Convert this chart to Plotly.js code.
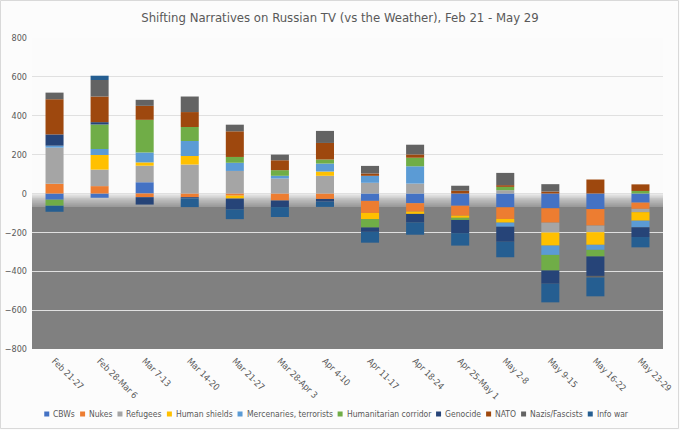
<!DOCTYPE html>
<html><head><meta charset="utf-8">
<script src="https://cdn.plot.ly/plotly-3.0.1.min.js"></script>
<style>html,body{margin:0;padding:0;background:#fff}#chart{width:680px;height:430px}</style>
</head><body><div id="chart"></div>
<script>
// ---- data ----
const categories = ["Feb 21-27","Feb 28-Mar 6","Mar 7-13","Mar 14-20","Mar 21-27","Mar 28-Apr 3","Apr 4-10","Apr 11-17","Apr 18-24","Apr 25-May 1","May 2-8","May 9-15","May 16-22","May 23-29"];
const seriesNames = ["CBWs","Nukes","Refugees","Human shields","Mercenaries, terrorists","Humanitarian corridor","Genocide","NATO","Nazis/Fascists","Info war"];
const cbws          = [-32, -22,  58,   0,   0,   0,   0, -38, -50, -63, -71, -76, -80, -47];
const nukes         = [ 50,  38, -19, -19, -11, -36, -28, -62, -43, -51, -60, -74, -85, -32];
const refugees      = [186,  85,  85, 149, 116,  77,  91,  55,  51,   0,  17, -51, -34, -17];
const humanShields  = [  0,  75,  17,  44, -15,   0,  22, -32, -12, -11, -19, -67, -65, -44];
const mercenaries   = [ 10,  31,  51,  77,  42,  14,  41,  36,  89,   0, -21, -48, -26, -34];
const humanitarian  = [-31, 126, 168,  72,  30,  29,  21, -43,  44, -11,  17, -80, -34,  13];
const genocide      = [ 58,  12, -38,  -6, -56, -34, -14, -22, -44, -68, -77, -68,-100, -50];
const nato          = [181, 132,  72,  77, 132,  51,  85,  12,  17,  14,   9,  10,  72,  34];
const nazis         = [ 34,  85,  31,  80,  34,  29,  62,  39,  50,  26,  63,  38,  -8,   0];
const infoWar       = [-31,  22,   0, -45, -50, -51, -27, -56, -63, -64, -80, -96, -97, -53];
const seriesValues = [cbws, nukes, refugees, humanShields, mercenaries, humanitarian, genocide, nato, nazis, infoWar];
const yTicks = [-800,-600,-400,-200,0,200,400,600,800];

// ---- style ----
const colors = ["#4472C4","#ED7D31","#A5A5A5","#FFC000","#5B9BD5","#70AD47","#264478","#9E480E","#636363","#255E91"];
const FONT = "'Liberation Sans Narrow','Arial Narrow','DejaVu Sans Condensed','Liberation Sans',Arial,sans-serif";
const TXT = "#595959";
const W = 680, H = 430, M = {l:32, r:17, t:38, b:81};
const PW = W - M.l - M.r, PH = H - M.t - M.b;
const px2x = px => (px - M.l) / PW;
const py2y = py => (H - M.b - py) / PH;

const traces = seriesNames.map((n, i) => ({
  type: 'bar', name: n, x: categories, y: seriesValues[i],
  marker: {color: colors[i], line: {width: 0}}, showlegend: false
}));

// background: gray below zero with a soft gradient near zero
const shapes = [];
const GRAD = 70, STEPS = 14;
shapes.push({type:'rect', xref:'paper', yref:'y', x0:0, x1:1, y0:yTicks[0], y1:-GRAD,
  fillcolor:'#808080', line:{width:0}, layer:'below'});
function lerp(a, b, t) { return Math.round(a + (b - a) * t); }
for (let i = 0; i < STEPS; i++) {
  const t = Math.pow((i + 0.5) / STEPS, 0.7);
  const c = lerp(245, 128, t);
  shapes.push({type:'rect', xref:'paper', yref:'y', x0:0, x1:1,
    y0: -(i + 1) * GRAD / STEPS, y1: -i * GRAD / STEPS,
    fillcolor:`rgb(${c},${c},${c})`, line:{width:0}, layer:'below'});
}
// outer border of chart
shapes.push({type:'rect', xref:'paper', yref:'paper',
  x0: px2x(0.5), x1: px2x(W - 1.5), y0: py2y(H - 1.5), y1: py2y(0.5),
  line:{color:'#d9d9d9', width:1}, fillcolor:'rgba(0,0,0,0)', layer:'below'});

// custom compact legend
const annotations = [];
const LFS = 8.5;
const ctx = document.createElement('canvas').getContext('2d');
ctx.font = `${LFS}px ${FONT}`;
const SQ = 5, GAP1 = 2, GAP2 = 7;
const widths = seriesNames.map(n => ctx.measureText(n).width);
let total = 0;
widths.forEach((w, i) => { total += SQ + GAP1 + w + (i < widths.length - 1 ? GAP2 : 0); });
let cx = 335 - total / 2;
const LY = 414;
seriesNames.forEach((n, i) => {
  shapes.push({type:'rect', xref:'paper', yref:'paper',
    x0: px2x(cx), x1: px2x(cx + SQ), y0: py2y(LY + SQ / 2), y1: py2y(LY - SQ / 2),
    fillcolor: colors[i], line:{width:0}});
  annotations.push({xref:'paper', yref:'paper', x: px2x(cx + SQ + GAP1), y: py2y(LY),
    xanchor:'left', yanchor:'middle', showarrow:false, text:n,
    font:{family:FONT, size:LFS, color:TXT}});
  cx += SQ + GAP1 + widths[i] + GAP2;
});

const layout = {
  width: W, height: H,
  margin: M,
  paper_bgcolor: '#fcfcfc', plot_bgcolor: '#fbfbfb',
  barmode: 'relative', bargap: 0.6,
  font: {family: FONT, color: TXT, size: 9},
  title: {text: 'Shifting Narratives on Russian TV (vs the Weather), Feb 21 - May 29',
    x: 0.5, xref: 'container', y: 1 - 17 / H, yref: 'container', yanchor: 'middle',
    font: {family: FONT, size: 13, color: TXT}},
  xaxis: {type:'category', tickangle: 45, showgrid:false, zeroline:false, showline:false,
    ticks:'', tickfont:{size:9, color:TXT}, ticklabelstandoff: 4},
  yaxis: {range:[yTicks[0], yTicks[yTicks.length - 1]], tickmode:'array', tickvals: yTicks,
    showgrid:true, gridcolor:'#e0e0e0', gridwidth:1, zeroline:false, showline:false, ticks:'',
    tickfont:{size:9, color:TXT}, ticklabelstandoff: 4},
  shapes, annotations, showlegend: false
};
Plotly.newPlot('chart', traces, layout, {displayModeBar:false, staticPlot:true});
</script></body></html>
